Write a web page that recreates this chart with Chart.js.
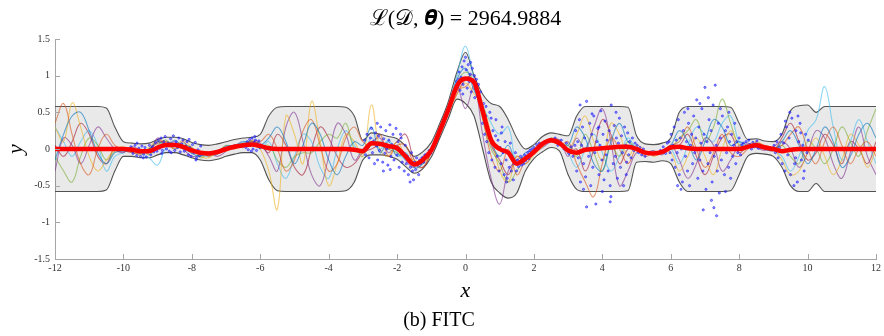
<!DOCTYPE html>
<html>
<head>
<meta charset="utf-8">
<script src="https://cdn.jsdelivr.net/npm/chart.js@4.4.1/dist/chart.umd.min.js"></script>
<style>
  html, body { margin: 0; padding: 0; background: #fff; }
  #wrap { width: 884px; height: 336px; }
</style>
</head>
<body>
<div id="wrap"><canvas id="myChart" width="884" height="336"></canvas></div>
<script>
// grid of test inputs (x) shared by mean, band and posterior samples
const gridX = [
    -12, -11.75, -11.5, -11.25, -11, -10.75, -10.5, -10.25, -10, -9.75,
    -9.5, -9.25, -9, -8.75, -8.5, -8.25, -8, -7.75, -7.5, -7.25,
    -7, -6.75, -6.5, -6.25, -6, -5.75, -5.5, -5.25, -5, -4.75,
    -4.5, -4.25, -4, -3.75, -3.5, -3.25, -3, -2.75, -2.5, -2.25,
    -2, -1.75, -1.5, -1.25, -1, -0.75, -0.5, -0.25, 0, 0.25,
    0.5, 0.75, 1, 1.25, 1.5, 1.75, 2, 2.25, 2.5, 2.75,
    3, 3.25, 3.5, 3.75, 4, 4.25, 4.5, 4.75, 5, 5.25,
    5.5, 5.75, 6, 6.25, 6.5, 6.75, 7, 7.25, 7.5, 7.75,
    8, 8.25, 8.5, 8.75, 9, 9.25, 9.5, 9.75, 10, 10.25,
    10.5, 10.75, 11, 11.25, 11.5, 11.75, 12
];

// predictive mean (red)
const meanY = [
    0, 0, 0, 0, 0, 0, 0, 0, 0, -0.01,
    -0.03, -0.03, 0.02, 0.055, 0.055, 0.03, -0.02, -0.05, -0.06, -0.04,
    0, 0.03, 0.05, 0.06, 0.04, 0.01, 0, 0, 0, 0,
    0, 0, 0, 0, 0, -0.01, -0.03, 0.08, 0.07, 0.04,
    0.01, -0.1, -0.21, -0.15, -0.02, 0.25, 0.54, 0.86, 0.96, 0.91,
    0.52, 0.12, 0, -0.05, -0.2, -0.13, -0.04, 0.07, 0.12, 0.08,
    -0.02, -0.05, -0.01, 0, 0.01, 0.02, 0.03, 0.03, 0, -0.05,
    -0.06, -0.04, 0.02, 0.03, 0.01, 0, 0, 0, 0, 0,
    0, 0.03, 0.05, 0.02, 0, -0.03, -0.01, 0, 0, 0,
    0, 0, 0, 0, 0, 0, 0
];

// confidence band edges
const upperY = [
    0.58, 0.58, 0.58, 0.58, 0.58, 0.58, 0.56, 0.3, 0.1, 0.08,
    0.07, 0.08, 0.13, 0.16, 0.16, 0.14, 0.09, 0.06, 0.05, 0.07,
    0.1, 0.13, 0.15, 0.16, 0.2, 0.45, 0.57, 0.58, 0.58, 0.58,
    0.58, 0.58, 0.58, 0.58, 0.57, 0.45, 0.12, 0.22, 0.2, 0.17,
    0.14, 0.04, -0.1, -0.04, 0.09, 0.35, 0.65, 1.05, 1.32, 1.0,
    0.75, 0.62, 0.58, 0.4, 0.15, 0, 0.06, 0.17, 0.22, 0.2,
    0.18, 0.45, 0.58, 0.58, 0.58, 0.58, 0.58, 0.57, 0.18, 0.07,
    0.06, 0.08, 0.15, 0.5, 0.58, 0.58, 0.58, 0.58, 0.58, 0.57,
    0.35, 0.13, 0.14, 0.11, 0.1, 0.2, 0.52, 0.59, 0.6, 0.5,
    0.58, 0.58, 0.58, 0.58, 0.58, 0.58, 0.58
];
const lowerY = [
    -0.58, -0.58, -0.58, -0.58, -0.58, -0.58, -0.56, -0.3, -0.1, -0.1,
    -0.12, -0.12, -0.08, -0.05, -0.05, -0.08, -0.12, -0.15, -0.16, -0.14,
    -0.1, -0.07, -0.05, -0.05, -0.15, -0.42, -0.57, -0.58, -0.58, -0.58,
    -0.58, -0.58, -0.58, -0.58, -0.57, -0.45, -0.15, -0.08, -0.08, -0.1,
    -0.14, -0.24, -0.33, -0.27, -0.11, 0.15, 0.42, 0.68, 0.62, 0.45,
    0, -0.45, -0.6, -0.67, -0.6, -0.3, -0.13, -0.04, 0.02, -0.03,
    -0.35, -0.55, -0.58, -0.58, -0.58, -0.58, -0.58, -0.57, -0.18, -0.17,
    -0.18, -0.16, -0.2, -0.45, -0.58, -0.58, -0.58, -0.58, -0.58, -0.57,
    -0.35, -0.1, -0.06, -0.07, -0.1, -0.25, -0.5, -0.58, -0.58, -0.47,
    -0.58, -0.58, -0.58, -0.58, -0.58, -0.58, -0.58
];

// posterior samples
const sampleBlue = [
    -0.15, 0.2, 0.45, 0.5, 0.25, -0.05, -0.2, -0.05, -0.03, -0.02,
    -0.05, 0, 0.1, 0.05, 0.12, 0.02, -0.06, -0.1, -0.05, -0.06,
    0.04, 0.05, 0.1, 0.08, 0.05, 0.15, 0.3, 0.1, -0.2, 0.05,
    0.35, 0.2, -0.15, -0.35, -0.1, 0.1, 0.05, 0.3, -0.05, 0.1,
    -0.1, -0.05, -0.25, -0.2, 0.02, 0.22, 0.55, 0.95, 1.1, 0.8,
    0.55, 0.1, -0.1, 0.05, -0.2, -0.05, -0.02, 0.05, 0.15, 0.08,
    0.05, 0.3, 0.15, -0.2, -0.3, 0.1, 0.35, 0.1, 0.02, -0.03,
    -0.08, -0.02, 0.05, 0.25, 0.1, -0.15, 0.1, 0.4, 0.3, 0.05,
    0.1, 0.05, 0.07, 0, -0.02, 0.1, 0.25, 0.05, -0.2, 0,
    0.3, 0.1, -0.25, -0.1, 0.2, 0.35, 0.15
];
const sampleOrange = [
    0.35, 0.62, 0.2, -0.2, -0.35, 0, 0.2, 0.05, 0, 0.02,
    -0.04, 0, 0.1, 0.08, 0, 0.1, -0.05, -0.03, -0.1, -0.02,
    0.02, 0, 0.07, 0.1, 0.1, 0.2, 0, -0.3, -0.15, 0.25,
    0.4, 0.05, -0.3, -0.2, 0.15, 0.3, 0.1, 0.05, 0.2, -0.1,
    0.05, 0.05, -0.2, -0.25, -0.05, 0.2, 0.5, 0.8, 0.85, 0.95,
    0.45, -0.1, -0.3, 0, -0.35, -0.15, 0, 0.1, 0.12, 0.05,
    0.1, -0.2, -0.45, -0.65, -0.2, 0.15, 0, -0.2, 0, -0.1,
    -0.05, -0.02, 0.05, 0.1, 0.3, 0, -0.25, -0.05, 0.2, -0.05,
    -0.1, 0, 0.08, 0.05, 0.02, 0.05, 0.2, 0.3, 0, -0.2,
    0.1, 0.3, 0.05, -0.2, 0, 0.1, -0.1
];
const sampleYellow = [
    0.3, 0.1, 0.63, 0.3, -0.1, -0.3, -0.15, 0, 0.03, -0.02,
    -0.08, 0.02, 0.12, 0.1, 0.05, 0.12, 0.02, -0.1, -0.12, -0.03,
    -0.03, 0.05, 0.04, 0.12, 0, -0.3, -0.82, 0.45, 0.2, -0.2,
    0.65, 0.1, -0.5, -0.2, 0.2, 0.1, -0.1, 0.6, 0, -0.1,
    0.1, -0.1, -0.15, -0.2, -0.05, 0.28, 0.5, 0.75, 0.9, 0.75,
    0.6, 0.2, -0.3, -0.45, -0.1, -0.2, -0.08, 0.03, 0.15, 0.1,
    0, 0.2, 0.45, 0.1, -0.15, 0.35, 0.2, -0.1, 0.05, -0.02,
    -0.1, -0.05, -0.05, -0.3, -0.1, 0.15, -0.1, -0.35, 0, 0.25,
    0.05, 0.05, 0.1, 0.04, 0, -0.15, -0.35, -0.3, -0.05, 0.15,
    -0.1, -0.35, -0.15, 0.2, 0.05, -0.25, 0
];
const samplePurple = [
    -0.3, 0.15, 0.05, -0.2, 0.05, 0.3, 0.15, 0, -0.05, 0.03,
    -0.02, -0.05, 0.15, 0.05, 0.1, 0, -0.1, -0.08, -0.04, -0.1,
    -0.03, 0.06, 0.02, 0.12, 0.08, -0.1, -0.3, 0.3, 0.5, 0.1,
    -0.35, -0.5, -0.1, 0.35, 0.2, -0.15, 0, 0.1, 0.15, -0.05,
    0.05, -0.15, -0.25, -0.1, 0, 0.2, 0.5, 0.85, 0.55, 0.85,
    0.2, -0.4, -0.75, -0.3, -0.15, -0.1, -0.05, 0.02, 0.1, 0.12,
    -0.1, 0.15, 0, 0.3, 0.55, 0.1, -0.5, -0.3, -0.05, -0.06,
    -0.02, -0.08, 0.05, -0.15, -0.4, -0.2, 0.15, 0.05, -0.3, -0.15,
    0.05, 0.08, 0.02, -0.02, 0.03, 0.1, 0, -0.25, -0.05, 0.25,
    0.15, -0.2, -0.4, -0.05, 0.3, -0.1, -0.35
];
const sampleGreen = [
    -0.1, -0.3, -0.45, -0.1, 0.15, 0.05, -0.15, -0.03, 0.02, -0.04,
    0, -0.08, 0.05, 0.12, 0, 0.05, 0.02, -0.12, -0.06, -0.05,
    0.05, 0.02, 0.06, 0.05, 0.02, 0.05, -0.15, -0.25, -0.1, -0.05,
    -0.05, 0.1, 0.2, 0.15, 0.35, 0, -0.05, 0.05, 0.1, 0,
    -0.05, -0.12, -0.18, -0.15, -0.02, 0.25, 0.55, 0.9, 1.05, 0.9,
    0.4, 0, -0.2, -0.45, -0.3, -0.12, -0.05, 0.08, 0.1, 0.06,
    0.05, -0.1, 0.2, -0.05, -0.3, 0.05, -0.1, 0.1, 0, -0.04,
    -0.07, -0.03, 0, 0.15, 0.25, 0.4, 0.1, 0.3, 0.68, 0.35,
    0.05, 0.03, 0.06, 0.02, 0, 0.05, -0.1, -0.2, 0.1, 0,
    -0.2, 0, 0.3, 0.1, -0.1, 0.25, 0.55
];
const sampleCyan = [
    0.3, 0.1, -0.1, 0.1, 0.25, 0.05, -0.3, -0.1, -0.05, 0,
    -0.06, -0.12, -0.22, 0.02, 0.03, 0.08, 0, -0.08, -0.1, -0.02,
    0, 0.05, 0.08, 0.1, 0, 0.1, -0.2, -0.4, -0.1, 0.2,
    0.1, -0.25, -0.4, 0, 0.25, 0.05, -0.1, 0.15, 0, 0.12,
    -0.05, -0.15, -0.2, -0.12, 0, 0.3, 0.6, 1.0, 1.4, 0.95,
    0.6, 0.35, 0.2, 0.3, -0.2, -0.15, -0.05, 0.05, 0.1, 0.1,
    -0.05, -0.25, 0, 0.2, -0.05, -0.3, -0.1, 0.15, 0, -0.05,
    -0.03, -0.06, 0, -0.2, 0.05, 0.3, 0.2, 0.1, 0.35, 0.45,
    0.1, 0.02, 0.05, 0.03, -0.02, -0.1, -0.3, -0.1, 0.25, 0.4,
    0.85, 0.3, -0.15, 0.1, 0.4, 0.1, -0.2
];
const sampleDarkRed = [
    0.05, -0.1, 0.1, 0.35, 0.2, -0.1, -0.2, 0.02, -0.02, -0.05,
    -0.06, 0, 0.08, 0.1, 0.06, 0, -0.02, -0.06, -0.08, -0.07,
    0, 0.04, 0.04, 0.1, 0.06, -0.05, 0.2, 0.05, -0.25, -0.35,
    0, 0.3, 0.15, -0.1, -0.25, -0.2, -0.05, 0, 0.05, 0,
    0.1, 0.2, -0.15, -0.25, -0.03, 0.22, 0.5, 0.75, 0.95, 1.0,
    0.5, 0.05, -0.15, -0.35, -0.1, -0.2, -0.05, 0.05, 0.14, 0.12,
    -0.05, 0, -0.3, 0, 0.4, 0.2, -0.2, 0, 0.02, -0.06,
    -0.04, -0.03, 0.03, 0.05, 0.2, -0.1, -0.35, -0.1, 0.15, 0.2,
    -0.05, 0.04, 0.03, 0, -0.02, 0.15, 0.35, 0.1, -0.15, -0.05,
    0.2, 0.05, -0.2, 0.1, 0, -0.2, 0.1
];

// observed training points [x, y]
const observations = [
    [-9.78,0.03],[-9.72,-0.06],[-9.66,0.05],[-9.61,-0.09],[-9.55,0.01],[-9.5,-0.1],[-9.46,0.04],[-9.41,-0.07],
    [-9.37,0.02],[-9.33,-0.11],[-9.28,-0.02],[-9.24,0.05],[-9.2,-0.08],[-9.15,0.03],[-9.11,-0.04],[-9.06,0.09],
    [-9.02,-0.03],[-8.98,0.12],[-8.94,0.01],[-8.9,0.15],[-8.86,-0.02],[-8.82,0.1],[-8.78,0.17],[-8.74,0],
    [-8.7,0.08],[-8.66,-0.03],[-8.62,0.14],[-8.58,0.05],[-8.54,0.18],[-8.5,-0.02],[-8.46,0.1],[-8.42,0.02],
    [-8.38,0.15],[-8.34,-0.04],[-8.3,0.07],[-8.26,0.12],[-8.22,-0.03],[-8.18,0.04],[-8.14,0.1],[-8.1,-0.08],
    [-8.06,0.02],[-8.02,-0.1],[-7.98,0.06],[-7.94,-0.05],[-7.9,0.09],[-7.86,-0.12],[-7.82,-0.01],[-7.78,-0.09],
    [-7.74,0.04],[-7.7,-0.07],[-9.6,0.08],[-9.42,-0.12],[-8.88,-0.06],[-8.6,-0.05],[-8.08,0.13],[-7.88,-0.15],
    [-6.42,0.02],[-6.38,0.1],[-6.35,-0.01],[-6.31,0.13],[-6.28,0.05],[-6.24,0.15],[-6.21,0],[-6.18,0.09],
    [-6.14,0.12],[-6.11,-0.02],[-6.08,0.07],[-6.04,0.11],[-6.01,0.02],[-6.26,-0.03],[-6.16,0.17],
    [-2.95,0.12],[-2.92,-0.08],[-2.88,0.2],[-2.85,0.02],[-2.82,-0.12],[-2.78,0.15],[-2.75,0.28],[-2.72,-0.05],
    [-2.69,0.1],[-2.66,-0.2],[-2.63,0.22],[-2.6,0.04],[-2.57,-0.15],[-2.54,0.18],[-2.51,-0.02],[-2.48,0.3],
    [-2.45,0.08],[-2.42,-0.18],[-2.39,0.14],[-2.36,-0.06],[-2.33,0.25],[-2.3,0],[-2.27,-0.22],[-2.24,0.12],
    [-2.21,0.33],[-2.18,-0.1],[-2.15,0.06],[-2.12,0.2],[-2.09,-0.15],[-2.06,0.02],[-2.03,0.28],[-2,-0.08],
    [-1.97,0.1],[-1.94,-0.25],[-1.91,-0.02],[-1.88,0.15],[-1.85,-0.18],[-1.82,-0.05],[-1.79,-0.3],[-1.76,0.05],
    [-1.73,-0.2],[-1.7,-0.1],[-1.67,-0.35],[-1.64,-0.15],[-1.61,-0.25],[-1.58,-0.05],[-1.55,-0.3],[-1.52,-0.42],
    [-1.49,-0.18],[-1.46,-0.28],[-1.43,-0.12],[-1.4,-0.22],[-1.37,-0.35],[-1.34,-0.15],[-1.31,-0.2],[-2.58,0.35],
    [-2.4,-0.3],[-2.2,-0.28],[-1.9,0.2],[-1.62,-0.45],
    [-1.27,-0.12],[-1.22,-0.18],[-1.18,-0.08],[-1.12,-0.1],[-1.06,-0.02],[-1.02,-0.06],[-0.97,0.03],[-0.92,0.05],
    [-0.86,0.12],[-0.8,0.18],[-0.74,0.27],[-0.68,0.33],[-0.6,0.42],[-0.52,0.5],[-0.45,0.6],[-0.38,0.7],
    [-0.3,0.78],[-0.26,0.92],[-0.22,0.85],[-0.19,1.05],[-0.16,0.8],[-0.13,0.98],[-0.1,1.12],[-0.07,0.88],
    [-0.04,1.2],[-0.01,0.95],[0.02,1.08],[0.05,0.83],[0.08,1.15],[0.11,0.92],[0.14,1.02],[0.17,0.78],
    [0.2,1.1],[0.23,0.9],[0.26,1],[0.29,0.82],[0.32,0.95],[0.35,0.72],[0.38,0.88],[0.41,0.65],
    [0.44,0.78],[-0.08,0.75],[0,1.25],[0.15,1.18],[0.27,0.7],[-0.2,0.95],
    [0.47,0.55],[0.5,0.35],[0.53,0.62],[0.56,0.2],[0.59,0.45],[0.62,0.1],[0.65,0.3],[0.68,-0.05],
    [0.71,0.5],[0.74,0.15],[0.77,-0.15],[0.8,0.25],[0.83,0.05],[0.86,-0.25],[0.89,0.4],[0.92,-0.1],
    [0.95,0.12],[0.98,-0.3],[1.01,0.02],[1.04,-0.2],[1.07,0.3],[1.1,-0.05],[1.13,-0.35],[1.16,0.1],
    [1.19,-0.15],[1.22,-0.4],[1.25,-0.05],[1.28,-0.25],[1.31,0.08],[1.34,-0.3],[1.37,-0.12],[1.4,-0.42],
    [1.43,-0.2],[1.46,-0.05],[1.49,-0.3],[0.6,0.58],[0.75,0.42],[0.88,0.18],[1.05,0.22],[1.2,-0.45],
    [1.52,-0.15],[1.55,-0.24],[1.58,-0.18],[1.61,-0.1],[1.64,-0.22],[1.67,-0.14],[1.7,-0.2],[1.73,-0.08],
    [1.76,-0.16],[1.79,-0.1],[1.82,-0.05],[1.85,-0.13],[1.88,-0.02],[1.91,-0.09],[1.94,0],[1.97,-0.06],
    [2,0.02],[2.04,-0.03],[2.08,0.06],[2.12,0.01],[2.16,0.08],
    [2.62,0.15],[2.7,0.05],[2.8,0.12],[2.88,0],[2.95,0.08],[3.02,-0.06],[3.08,0.03],[3.14,-0.1],[3.2,0.05],
    [3.22,0.25],[3.25,-0.3],[3.28,0.1],[3.3,-0.12],[3.33,0.4],[3.36,-0.45],[3.39,0.05],[3.42,0.3],
    [3.45,-0.2],[3.48,0.15],[3.51,-0.38],[3.54,0.65],[3.57,0],[3.6,-0.1],[3.63,0.35],[3.66,-0.5],
    [3.69,0.2],[3.72,-0.25],[3.75,0.45],[3.78,-0.05],[3.81,-0.75],[3.84,0.1],[3.87,0.28],[3.9,-0.35],
    [3.93,0.05],[3.96,0.52],[3.99,-0.15],[4.02,0.2],[4.05,-0.42],[4.08,0.38],[4.11,-0.08],[4.14,0.12],
    [4.17,-0.3],[4.2,0.25],[4.23,-0.5],[4.26,0.6],[4.29,0.02],[4.32,-0.2],[4.35,0.32],[4.38,-0.1],
    [4.41,0.15],[4.44,-0.4],[4.47,0.08],[4.5,0.42],[4.53,-0.25],[4.56,0.18],[4.59,-0.05],[4.62,-0.5],
    [4.65,0.3],[4.68,0.05],[4.71,-0.18],[4.74,0.22],[4.77,-0.08],[4.8,0.1],[4.84,-0.12],[4.88,0.15],
    [4.92,-0.02],[4.96,0.08],[3.35,0.6],[3.7,0.48],[4,-0.58],[4.25,-0.65],[3.45,-0.55],[3.9,0.3],
    [4.4,0.5],[4.7,-0.35],[3.54,-0.79],[4.23,-0.72],
    [5.02,0.05],[5.06,-0.05],[5.1,0.02],[5.15,-0.08],[5.2,0],[5.25,-0.1],[5.7,-0.02],[5.78,0.03],
    [5.85,-0.06],[5.9,0.08],
    [5.95,0.1],[5.98,-0.05],[6.01,0.2],[6.04,-0.15],[6.07,0.05],[6.1,0.3],[6.13,-0.25],[6.16,0.12],
    [6.19,-0.05],[6.22,0.4],[6.25,-0.35],[6.28,0.15],[6.31,0],[6.34,-0.45],[6.37,0.25],[6.4,0.5],
    [6.43,-0.1],[6.46,0.1],[6.49,-0.3],[6.52,0.35],[6.55,-0.5],[6.58,0.05],[6.61,0.2],[6.64,-0.2],
    [6.67,0.45],[6.7,-0.05],[6.73,0.15],[6.76,0.67],[6.79,-0.4],[6.82,0.3],[6.85,-0.15],[6.88,0.08],
    [6.91,0.55],[6.94,-0.3],[6.97,0.2],[7,0.84],[7.03,-0.55],[7.06,0.1],[7.09,-0.2],[7.12,0.4],
    [7.15,-0.05],[7.18,0.25],[7.21,-0.45],[7.24,0.6],[7.27,-0.1],[7.3,0.87],[7.33,0.05],[7.36,-0.3],
    [7.39,0.35],[7.42,-0.6],[7.45,0.15],[7.48,-0.15],[7.51,0.45],[7.54,0],[7.57,-0.35],[7.6,0.25],
    [7.63,-0.05],[7.66,0.3],[7.69,-0.25],[7.72,0.1],[7.75,-0.4],[7.78,0.2],[7.81,-0.1],[7.84,0.05],
    [7.87,0.35],[7.9,-0.2],[7.93,0.1],[7.96,-0.05],[8,0.15],[8.04,-0.08],[8.08,0.05],[6.95,-0.83],
    [7.19,-0.7],[7.34,-0.91],[7.26,-0.8],[6.5,0.55],[7.1,0.7],[6.3,-0.55],[7.6,-0.58],[6.85,0.62],
    [7.45,0.55],[6.2,-0.5],[7.7,0.5],
    [8.12,0.08],[8.16,0.02],[8.2,0.1],[8.24,0.04],[8.28,0.12],[8.32,0.06],[8.36,0],[8.4,0.09],
    [8.44,0.03],[8.48,0.07],[8.52,0.11],[8.56,0.01],[8.6,0.05],[8.65,0.02],
    [9.02,0.05],[9.06,-0.05],[9.1,0.1],[9.14,-0.12],[9.18,0.02],[9.22,0.2],[9.26,-0.2],[9.3,0.08],
    [9.34,-0.3],[9.38,0.3],[9.42,-0.08],[9.46,0.15],[9.5,-0.35],[9.54,0.42],[9.58,0],[9.62,-0.2],
    [9.66,0.25],[9.7,-0.45],[9.74,0.1],[9.78,0.35],[9.82,-0.15],[9.86,0.05],[9.9,-0.3],[9.94,0.2],
    [9.98,-0.05],[10.02,0.12],[9.48,0.5],[9.6,-0.5],[9.72,0.45],[9.88,-0.4],[9.35,0.38],[9.65,-0.12],
    [9.8,0.22]
];

const titleText = "ℒ(𝒟, 𝜽) = 2964.9884";
const captionText = "(b) FITC";

const serif = "'Liberation Serif', 'DejaVu Serif', serif";

const toPoints = (ys) => gridX.map((x, i) => ({ x, y: ys[i] }));

const sampleLine = (ys, color) => ({
    data: toPoints(ys),
    borderColor: color,
    borderWidth: 1.1,
    pointRadius: 0,
    tension: 0.4,
    fill: false
});

// matlab style ticks pointing into the plot
const inwardTicks = {
    id: "inwardTicks",
    afterDatasetsDraw(chart) {
        const { ctx, chartArea, scales } = chart;
        ctx.save();
        ctx.strokeStyle = "#a6a6a6";
        ctx.lineWidth = 1;
        ctx.beginPath();
        scales.x.ticks.forEach((t) => {
            const px = Math.round(scales.x.getPixelForValue(t.value)) + 0.5;
            ctx.moveTo(px, chartArea.bottom);
            ctx.lineTo(px, chartArea.bottom - 5);
        });
        scales.y.ticks.forEach((t) => {
            const py = Math.round(scales.y.getPixelForValue(t.value)) + 0.5;
            ctx.moveTo(chartArea.left, py);
            ctx.lineTo(chartArea.left + 5, py);
        });
        ctx.stroke();
        ctx.restore();
    }
};

const ctx = document.getElementById("myChart").getContext("2d");
const myChart = new Chart(ctx, {
    type: "line",
    data: {
        datasets: [
            {
                data: toPoints(meanY),
                borderColor: "#ff0000",
                borderWidth: 4.5,
                pointRadius: 0,
                cubicInterpolationMode: "monotone",
                fill: false
            },
            {
                data: observations.map(([x, y]) => ({ x, y })),
                showLine: false,
                pointRadius: 1.1,
                pointBorderWidth: 0.6,
                pointBorderColor: "rgba(0,0,255,0.85)",
                pointBackgroundColor: "rgba(60,60,255,0.5)"
            },
            sampleLine(sampleBlue, "rgba(0,114,189,0.6)"),
            sampleLine(sampleOrange, "rgba(217,83,25,0.6)"),
            sampleLine(sampleYellow, "rgba(237,177,32,0.6)"),
            sampleLine(samplePurple, "rgba(126,47,142,0.6)"),
            sampleLine(sampleGreen, "rgba(119,172,48,0.6)"),
            sampleLine(sampleCyan, "rgba(77,190,238,0.65)"),
            sampleLine(sampleDarkRed, "rgba(162,20,47,0.6)"),
            {
                data: toPoints(upperY),
                borderColor: "#555555",
                borderWidth: 1.1,
                pointRadius: 0,
                cubicInterpolationMode: "monotone",
                fill: "+1",
                backgroundColor: "rgba(0,0,0,0.085)"
            },
            {
                data: toPoints(lowerY),
                borderColor: "#555555",
                borderWidth: 1.1,
                pointRadius: 0,
                cubicInterpolationMode: "monotone",
                fill: false
            }
        ]
    },
    options: {
        responsive: false,
        animation: false,
        layout: { padding: { left: 0, right: 6, top: 0, bottom: 0 } },
        plugins: {
            legend: { display: false },
            tooltip: { enabled: false },
            title: {
                display: true,
                text: titleText,
                fullSize: false,
                color: "#000",
                font: { family: serif, size: 22, weight: "normal" },
                padding: { top: 6, bottom: 6.6 }
            },
            subtitle: {
                display: true,
                position: "bottom",
                text: captionText,
                color: "#000",
                font: { family: serif, size: 20, weight: "normal" },
                padding: { top: 3, bottom: 3 }
            }
        },
        scales: {
            x: {
                type: "linear",
                min: -12,
                max: 12,
                ticks: {
                    stepSize: 2,
                    padding: 3,
                    maxRotation: 0,
                    autoSkip: false,
                    color: "#333",
                    font: { family: serif, size: 10 }
                },
                grid: { drawOnChartArea: false, drawTicks: false },
                border: { color: "#a6a6a6", width: 1 },
                title: {
                    display: true,
                    text: "x",
                    color: "#000",
                    font: { family: serif, size: 22, style: "italic" },
                    padding: { top: 0, bottom: 2 }
                },
                afterFit: (scale) => { scale.height = 47; }
            },
            y: {
                min: -1.5,
                max: 1.5,
                ticks: {
                    stepSize: 0.5,
                    padding: 5,
                    color: "#333",
                    font: { family: serif, size: 10 },
                    callback: (v) => String(Number(v.toFixed(1)))
                },
                grid: { drawOnChartArea: false, drawTicks: false },
                border: { color: "#a6a6a6", width: 1 },
                title: {
                    display: true,
                    text: "y",
                    color: "#000",
                    font: { family: serif, size: 22, style: "italic" },
                    padding: { top: 3, bottom: 0 }
                },
                afterFit: (scale) => { scale.width = 55; }
            }
        }
    },
    plugins: [inwardTicks]
});
</script>
</body>
</html>
